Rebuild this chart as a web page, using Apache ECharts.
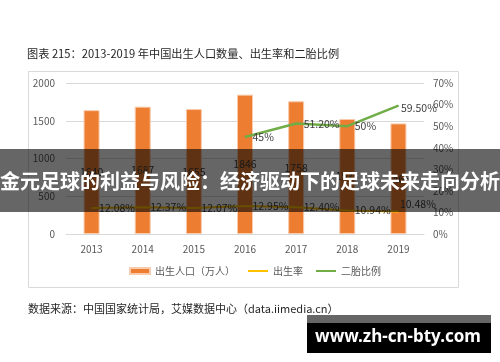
<!DOCTYPE html>
<html><head><meta charset="utf-8">
<script src="https://cdn.jsdelivr.net/npm/echarts@6/dist/echarts.min.js"></script>
<style>html,body{margin:0;padding:0;background:#fff}#c{width:500px;height:362px}</style>
</head><body><div id="c"></div>
<script>
var years = ['2013','2014','2015','2016','2017','2018','2019'];
var births = [1640, 1687, 1655, 1846, 1758, 1523, 1465];
var birthRate = [12.08, 12.37, 12.07, 12.95, 12.40, 10.94, 10.48];
var birthRateText = ['12.08%','12.37%','12.07%','12.95%','12.40%','10.94%','10.48%'];
var secondChild = [null, null, null, 45, 51.2, 50, 59.5];
var secondChildText = ['', '', '', '45%', '51.20%', '50%', '59.50%'];
var leftTicks = {min: 0, max: 2000, interval: 500};
var rightTicks = {min: 0, max: 70, interval: 10};

var F = '"Noto Sans CJK SC", "Noto Sans", sans-serif';
var lblColor = '#404040';

var rateData = birthRate.map(function (v, i) {
  var d = {value: v};
  if (i === 6) d.label = {offset: [-6, -7]};
  return d;
});
var scData = secondChild.map(function (v, i) {
  var d = {value: v};
  if (i === 6) d.label = {offset: [-5, 2]};
  return d;
});

var chart = echarts.init(document.getElementById('c'));
chart.setOption({
  animation: false,
  textStyle: {fontFamily: F},
  title: {
    text: '图表 215：2013-2019 年中国出生人口数量、出生率和二胎比例',
    left: 27, top: 48, padding: 0,
    textStyle: {fontFamily: F, fontSize: 11.2, fontWeight: 'normal', color: '#262626'}
  },
  grid: {left: 66, right: 76, top: 83, bottom: 128},
  legend: {
    left: 129, top: 266, padding: 0, itemGap: 12,
    itemWidth: 20, itemHeight: 6,
    textStyle: {fontFamily: F, fontSize: 10, color: '#595959'},
    data: [
      {name: '出生人口（万人）', icon: 'rect'},
      {name: '出生率', itemStyle: {opacity: 0}},
      {name: '二胎比例', itemStyle: {opacity: 0}}
    ]
  },
  xAxis: {
    type: 'category', data: years,
    axisLine: {lineStyle: {color: '#D9D9D9'}},
    axisTick: {show: false},
    axisLabel: {color: '#595959', fontSize: 10, margin: 10, fontFamily: F}
  },
  yAxis: [{
    type: 'value', min: leftTicks.min, max: leftTicks.max, interval: leftTicks.interval,
    axisLine: {show: false}, axisTick: {show: false},
    splitLine: {lineStyle: {color: '#D9D9D9'}},
    axisLabel: {color: '#595959', fontSize: 10, margin: 11, fontFamily: F,
      formatter: function (v) { return String(v); }}
  }, {
    type: 'value', min: rightTicks.min, max: rightTicks.max, interval: rightTicks.interval,
    position: 'right',
    axisLine: {show: false}, axisTick: {show: false}, splitLine: {show: false},
    axisLabel: {color: '#595959', fontSize: 10, margin: 9, fontFamily: F, formatter: '{value}%'}
  }],
  series: [{
    name: '出生人口（万人）', type: 'bar', data: births, barWidth: 16,
    itemStyle: {color: '#ED7D31', borderColor: '#F8CBAD', borderWidth: 1},
    label: {show: true, position: 'inside', color: lblColor, fontSize: 10.5, fontFamily: F}
  }, {
    name: '出生率', type: 'line', yAxisIndex: 1, data: rateData,
    symbol: 'circle', symbolSize: 1,
    itemStyle: {color: '#FFC000'},
    lineStyle: {color: '#FFC000', width: 2},
    label: {show: true, position: 'right', distance: 7, color: lblColor, fontSize: 10.5, fontFamily: F,
      formatter: function (p) { return birthRateText[p.dataIndex]; }}
  }, {
    name: '二胎比例', type: 'line', yAxisIndex: 1, data: scData,
    symbol: 'circle', symbolSize: 1,
    itemStyle: {color: '#70AD47'},
    lineStyle: {color: '#70AD47', width: 2.5},
    label: {show: true, position: 'right', distance: 7, color: lblColor, fontSize: 10.5, fontFamily: F,
      formatter: function (p) { return secondChildText[p.dataIndex]; }}
  }],
  graphic: [
    {type: 'rect', z: -1, shape: {x: 28.5, y: 71.5, width: 430, height: 216}, style: {fill: 'none', stroke: '#D9D9D9', lineWidth: 1}},
    {type: 'text', style: {x: 28, y: 309, text: '数据来源：中国国家统计局，艾媒数据中心（data.iimedia.cn）', fill: '#262626', font: '11px ' + F, verticalAlign: 'middle'}},
    {type: 'rect', z: 100, shape: {x: 0, y: 149, width: 500, height: 63}, style: {fill: 'rgba(0,0,0,0.6)'}},
    {type: 'text', z: 101, style: {x: 250, y: 181, text: '金元足球的利益与风险：经济驱动下的足球未来走向分析', fill: '#fff', font: 'bold 20px ' + F, align: 'center', verticalAlign: 'middle'}},
    {type: 'rect', z: 100, shape: {x: 307, y: 315, width: 184, height: 8}, style: {fill: '#666'}},
    {type: 'rect', z: 100, shape: {x: 307, y: 323, width: 184, height: 30}, style: {fill: '#000'}},
    {type: 'text', z: 101, style: {x: 398, y: 337, text: 'www.zh-cn-bty.com', fill: '#fff', font: 'bold 17px "Noto Sans", sans-serif', align: 'center', verticalAlign: 'middle'}}
  ]
});
</script></body></html>
